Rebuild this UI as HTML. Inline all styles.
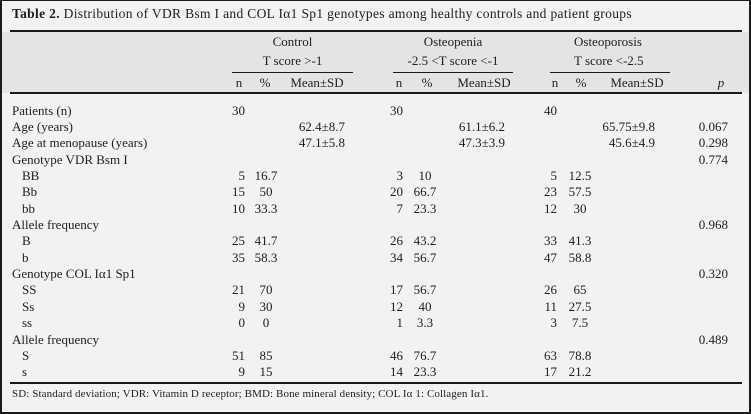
<!DOCTYPE html>
<html>
<head>
<meta charset="utf-8">
<style>
html,body{margin:0;padding:0;background:#f2f2f2;}
#c{position:relative;width:751px;height:414px;overflow:hidden;background:#f2f2f2;font-family:"Liberation Serif",serif;font-size:13px;color:#1e1e1e;}
.a{position:absolute;white-space:nowrap;line-height:16px;}
.ln{position:absolute;background:#1a1a1a;}
.r{position:absolute;left:0;width:751px;height:16px;line-height:16px;}
.r span{position:absolute;top:0;white-space:nowrap;}
.l{left:12px;}
.li{left:22px;}
.cn{right:506px;}
.cp{left:236px;width:60px;text-align:center;}
.cm{right:406px;}
.on{right:348px;}
.op{left:395px;width:60px;text-align:center;}
.om{right:246px;}
.pn{right:194px;}
.pp{left:550px;width:60px;text-align:center;}
.pm{right:96px;}
.pv{right:23px;}
.hc{position:absolute;white-space:nowrap;line-height:16px;text-align:center;}
</style>
</head>
<body>
<div id="c">
  <!-- header band -->
  <div style="position:absolute;left:0;top:32px;width:751px;height:61px;background:#e4e4e4;"></div>
  <!-- frame -->
  <div class="ln" style="left:0;top:0;width:2px;height:414px;"></div>
  <div class="ln" style="right:0;top:0;width:2px;height:414px;"></div>
  <div class="ln" style="left:0;top:0;width:751px;height:1px;"></div>
  <div class="ln" style="left:0;bottom:0;width:751px;height:2px;"></div>

  <!-- title -->
  <div class="a" style="left:12px;top:6.2px;font-size:13.5px;letter-spacing:0.33px;"><b>Table 2.</b> Distribution of VDR Bsm I and COL Iα1 Sp1 genotypes among healthy controls and patient groups</div>
  <div class="ln" style="left:10px;top:30px;width:732px;height:2px;"></div>

  <!-- group headers -->
  <div class="hc" style="left:232px;width:121px;top:33.6px;">Control</div>
  <div class="hc" style="left:232px;width:121px;top:52.6px;">T score &gt;-1</div>
  <div class="hc" style="left:383px;width:140px;top:33.6px;">Osteopenia</div>
  <div class="hc" style="left:383px;width:140px;top:52.6px;">-2.5 &lt;T score &lt;-1</div>
  <div class="a" style="left:574px;top:33.6px;">Osteoporosis</div>
  <div class="a" style="left:574px;top:52.6px;">T score &lt;-2.5</div>

  <div class="ln" style="left:232px;top:72px;width:121px;height:1px;"></div>
  <div class="ln" style="left:393px;top:72px;width:120px;height:1px;"></div>
  <div class="ln" style="left:550px;top:72px;width:120px;height:1px;"></div>

  <!-- sub headers -->
  <div class="hc" style="left:224px;width:30px;top:74.6px;">n</div>
  <div class="hc" style="left:250px;width:30px;top:74.6px;">%</div>
  <div class="hc" style="left:287px;width:60px;top:74.6px;">Mean±SD</div>
  <div class="hc" style="left:384px;width:30px;top:74.6px;">n</div>
  <div class="hc" style="left:412px;width:30px;top:74.6px;">%</div>
  <div class="hc" style="left:454px;width:60px;top:74.6px;">Mean±SD</div>
  <div class="hc" style="left:540px;width:30px;top:74.6px;">n</div>
  <div class="hc" style="left:566px;width:30px;top:74.6px;">%</div>
  <div class="hc" style="left:607px;width:60px;top:74.6px;">Mean±SD</div>
  <div class="hc" style="left:706px;width:30px;top:74.6px;"><i>p</i></div>

  <div class="ln" style="left:10px;top:92px;width:732px;height:1.5px;"></div>

  <!-- body rows -->
  <div class="r" style="top:102.6px"><span class="l">Patients (n)</span><span class="cn">30</span><span class="on">30</span><span class="pn">40</span></div>
  <div class="r" style="top:118.95px"><span class="l">Age (years)</span><span class="cm">62.4±8.7</span><span class="om">61.1±6.2</span><span class="pm">65.75±9.8</span><span class="pv">0.067</span></div>
  <div class="r" style="top:135.3px"><span class="l">Age at menopause (years)</span><span class="cm">47.1±5.8</span><span class="om">47.3±3.9</span><span class="pm">45.6±4.9</span><span class="pv">0.298</span></div>
  <div class="r" style="top:151.65px"><span class="l">Genotype VDR Bsm I</span><span class="pv">0.774</span></div>
  <div class="r" style="top:168px"><span class="li">BB</span><span class="cn">5</span><span class="cp">16.7</span><span class="on">3</span><span class="op">10</span><span class="pn">5</span><span class="pp">12.5</span></div>
  <div class="r" style="top:184.35px"><span class="li">Bb</span><span class="cn">15</span><span class="cp">50</span><span class="on">20</span><span class="op">66.7</span><span class="pn">23</span><span class="pp">57.5</span></div>
  <div class="r" style="top:200.7px"><span class="li">bb</span><span class="cn">10</span><span class="cp">33.3</span><span class="on">7</span><span class="op">23.3</span><span class="pn">12</span><span class="pp">30</span></div>
  <div class="r" style="top:217.05px"><span class="l">Allele frequency</span><span class="pv">0.968</span></div>
  <div class="r" style="top:233.4px"><span class="li">B</span><span class="cn">25</span><span class="cp">41.7</span><span class="on">26</span><span class="op">43.2</span><span class="pn">33</span><span class="pp">41.3</span></div>
  <div class="r" style="top:249.75px"><span class="li">b</span><span class="cn">35</span><span class="cp">58.3</span><span class="on">34</span><span class="op">56.7</span><span class="pn">47</span><span class="pp">58.8</span></div>
  <div class="r" style="top:266.1px"><span class="l">Genotype COL Iα1 Sp1</span><span class="pv">0.320</span></div>
  <div class="r" style="top:282.45px"><span class="li">SS</span><span class="cn">21</span><span class="cp">70</span><span class="on">17</span><span class="op">56.7</span><span class="pn">26</span><span class="pp">65</span></div>
  <div class="r" style="top:298.8px"><span class="li">Ss</span><span class="cn">9</span><span class="cp">30</span><span class="on">12</span><span class="op">40</span><span class="pn">11</span><span class="pp">27.5</span></div>
  <div class="r" style="top:315.15px"><span class="li">ss</span><span class="cn">0</span><span class="cp">0</span><span class="on">1</span><span class="op">3.3</span><span class="pn">3</span><span class="pp">7.5</span></div>
  <div class="r" style="top:331.5px"><span class="l">Allele frequency</span><span class="pv">0.489</span></div>
  <div class="r" style="top:347.85px"><span class="li">S</span><span class="cn">51</span><span class="cp">85</span><span class="on">46</span><span class="op">76.7</span><span class="pn">63</span><span class="pp">78.8</span></div>
  <div class="r" style="top:364.2px"><span class="li">s</span><span class="cn">9</span><span class="cp">15</span><span class="on">14</span><span class="op">23.3</span><span class="pn">17</span><span class="pp">21.2</span></div>

  <div class="ln" style="left:10px;top:382px;width:732px;height:1.5px;"></div>

  <!-- footnote -->
  <div class="a" style="left:12px;top:387px;font-size:11px;line-height:14px;letter-spacing:0.1px;">SD: Standard deviation; VDR: Vitamin D receptor; BMD: Bone mineral density; COL Iα 1: Collagen Iα1.</div>
</div>
</body>
</html>
